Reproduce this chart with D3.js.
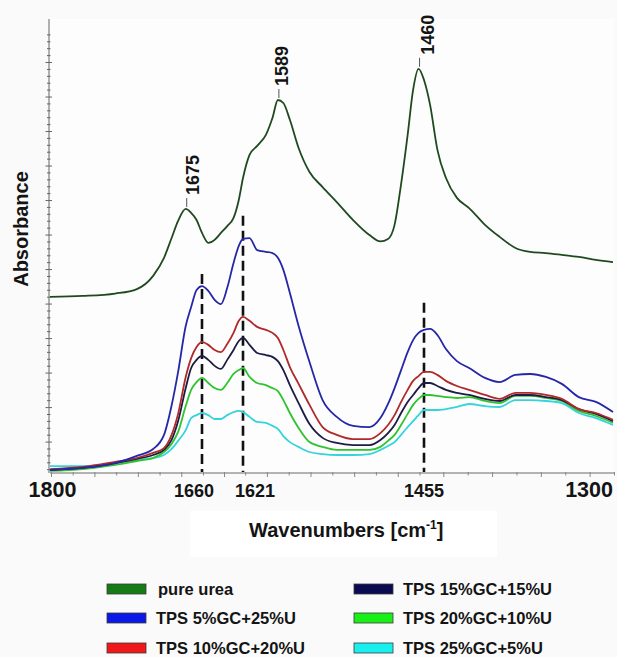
<!DOCTYPE html>
<html><head><meta charset="utf-8">
<script src="https://cdn.jsdelivr.net/npm/d3@7"></script>
<style>
html,body{margin:0;padding:0;background:#fafafa;}
svg{display:block;}
text{font-family:"Liberation Sans",Arial,sans-serif;font-weight:bold;fill:#141414;}
</style></head><body>
<svg id="chart" width="617" height="657"></svg>
<script>
// ---------- data ----------
const wavenumbers = [1800,1770,1740,1720,1705,1695,1688,1682,1675,1670,1665,1660,1654,1648,1642,1636,1630,1625,1621,1615,1608,1600,1594,1589,1584,1578,1570,1560,1548,1535,1520,1505,1495,1488,1482,1476,1470,1465,1460,1455,1450,1444,1437,1428,1418,1405,1393,1380,1368,1355,1342,1328,1314,1300];

const pureUrea = [0.622,0.625,0.633,0.648,0.692,0.752,0.818,0.875,0.915,0.902,0.878,0.835,0.802,0.812,0.835,0.858,0.885,0.945,1.018,1.095,1.125,1.162,1.218,1.278,1.268,1.212,1.118,1.038,0.988,0.938,0.878,0.828,0.807,0.815,0.862,0.998,1.162,1.312,1.382,1.345,1.262,1.112,1.018,0.952,0.918,0.862,0.822,0.785,0.772,0.768,0.762,0.755,0.745,0.738];
const tps5gc25u = [0.045,0.052,0.068,0.092,0.115,0.162,0.26,0.372,0.525,0.588,0.645,0.658,0.642,0.612,0.598,0.652,0.735,0.792,0.815,0.818,0.778,0.772,0.768,0.752,0.712,0.635,0.525,0.405,0.278,0.222,0.192,0.188,0.218,0.265,0.318,0.378,0.438,0.478,0.502,0.512,0.515,0.495,0.448,0.408,0.385,0.352,0.338,0.362,0.365,0.355,0.332,0.288,0.272,0.238];
const tps10gc20u = [0.048,0.055,0.072,0.085,0.102,0.118,0.162,0.232,0.355,0.418,0.455,0.472,0.462,0.445,0.438,0.465,0.502,0.542,0.555,0.542,0.522,0.512,0.502,0.485,0.445,0.388,0.332,0.262,0.188,0.162,0.148,0.148,0.168,0.195,0.228,0.272,0.312,0.342,0.358,0.372,0.372,0.362,0.342,0.325,0.312,0.295,0.282,0.302,0.302,0.295,0.282,0.248,0.235,0.212];
const tps15gc15u = [0.045,0.052,0.068,0.082,0.095,0.112,0.145,0.208,0.318,0.385,0.412,0.425,0.412,0.392,0.382,0.412,0.445,0.475,0.485,0.462,0.435,0.428,0.422,0.408,0.378,0.328,0.268,0.198,0.152,0.135,0.128,0.128,0.145,0.168,0.195,0.235,0.272,0.295,0.318,0.335,0.335,0.325,0.312,0.302,0.295,0.282,0.275,0.295,0.295,0.288,0.278,0.248,0.232,0.208];
const tps20gc10u = [0.042,0.048,0.062,0.075,0.085,0.105,0.132,0.172,0.258,0.312,0.338,0.352,0.335,0.318,0.312,0.335,0.365,0.378,0.385,0.355,0.335,0.328,0.318,0.308,0.278,0.235,0.185,0.138,0.122,0.112,0.112,0.112,0.122,0.142,0.162,0.195,0.232,0.262,0.282,0.295,0.295,0.292,0.288,0.285,0.288,0.275,0.268,0.292,0.292,0.285,0.275,0.242,0.225,0.202];
const tps25gc5u = [0.058,0.058,0.068,0.078,0.085,0.095,0.115,0.142,0.178,0.218,0.228,0.235,0.228,0.215,0.215,0.228,0.238,0.242,0.238,0.222,0.205,0.202,0.192,0.182,0.158,0.138,0.122,0.105,0.098,0.095,0.095,0.098,0.112,0.125,0.138,0.162,0.188,0.208,0.228,0.245,0.245,0.245,0.248,0.255,0.265,0.258,0.255,0.278,0.278,0.275,0.268,0.235,0.218,0.195];

const seriesNames = ["pure urea","TPS 5%GC+25%U","TPS 10%GC+20%U","TPS 15%GC+15%U","TPS 20%GC+10%U","TPS 25%GC+5%U"];
const seriesValues = [pureUrea,tps5gc25u,tps10gc20u,tps15gc15u,tps20gc10u,tps25gc5u];
const lineColors = ["#1f4a1f","#2626a8","#b02a2a","#1c1c44","#2ec42e","#34d4dc"];
const legendColors = ["#167a16","#0a18e8","#f01818","#0a0a52","#18f018","#18f0f0"];

const xTickLabels = [1800,1660,1621,1455,1300];
const peakLabels = [1675,1589,1460];
const dashedWavenumbers = [1660,1621,1455];
const dashedTops = [0.698,0.892,0.602];
const xTitle = "Wavenumbers [cm";
const yTitle = "Absorbance";

// ---------- scales ----------
const svg = d3.select("#chart");
const x = d3.scaleLinear().domain(xTickLabels).range([50,202,243,424,613]);
const y = d3.scaleLinear().domain([0.035,1.548]).range([473,19]);

// white box behind x title
svg.append("rect").attr("x",190).attr("y",511).attr("width",307).attr("height",46).attr("fill","#ffffff");
svg.append("rect").attr("x",50).attr("y",19).attr("width",564).attr("height",454).attr("fill","#fdfdfd");

// ---------- y axis ----------
const yMinor = d3.range(1,66).map(i => i*0.023).filter(v => v >= 0.035 && v <= 1.548);
const yAxisG = svg.append("g");
yAxisG.append("line").attr("x1",49).attr("x2",49).attr("y1",y(1.548)).attr("y2",y(0.035))
  .attr("stroke","#666").attr("stroke-width",1);
yAxisG.selectAll("line.t").data(yMinor).join("line").attr("class","t")
  .attr("x1",(d,i)=> (i+1)%5===0 ? 45.5 : 47)
  .attr("x2",(d,i)=> (i+1)%5===0 ? 52 : 50.5)
  .attr("y1",d=>y(d)).attr("y2",d=>y(d))
  .attr("stroke","#666").attr("stroke-width",1);

// ---------- x axis ----------
const xMinor = d3.range(1800,1299,-20);
const xAxisG = svg.append("g");
xAxisG.append("line").attr("x1",x(1800)).attr("x2",x(1300)+1).attr("y1",473).attr("y2",473)
  .attr("stroke","#9a9a9a").attr("stroke-width",1.6);
xAxisG.selectAll("line.t").data(xMinor).join("line").attr("class","t")
  .attr("x1",d=>x(d)+1.5).attr("x2",d=>x(d)+1.5)
  .attr("y1",472).attr("y2",(d,i)=> i%2===0 ? 477 : 475.5)
  .attr("stroke","#888").attr("stroke-width",1);

const tickStyle = {1800:{dx:2.5,size:21.5,anchor:"middle"},1660:{dx:-8,size:18,anchor:"middle"},
  1621:{dx:12,size:18,anchor:"middle"},1455:{dx:0,size:18,anchor:"middle"},1300:{dx:0,size:21.5,anchor:"end"}};
svg.append("g").selectAll("text").data(xTickLabels).join("text")
  .attr("x",d=>x(d)+tickStyle[d].dx).attr("y",497)
  .attr("text-anchor",d=>tickStyle[d].anchor)
  .attr("font-size",d=>tickStyle[d].size)
  .text(d=>d);

// dashed reference lines
svg.append("g").selectAll("line").data(dashedWavenumbers).join("line")
  .attr("x1",d=>x(d)).attr("x2",d=>x(d))
  .attr("y1",(d,i)=>y(dashedTops[i])).attr("y2",472)
  .attr("stroke","#111").attr("stroke-width",2.6).attr("stroke-dasharray","10,5");

// ---------- lines ----------
const line = d3.line().x((d,i)=>x(wavenumbers[i])).y(d=>y(d)).curve(d3.curveMonotoneX);
const order = [0,5,4,3,2,1];
svg.append("g").selectAll("path").data(order).join("path")
  .attr("d",k=>line(seriesValues[k]))
  .attr("fill","none").attr("stroke",k=>lineColors[k]).attr("stroke-width",1.8)
  .attr("stroke-linejoin","round");

// ---------- peak labels on pure urea ----------
const peakDx = {1675:6.5,1589:4,1460:9.5};
const peakG = svg.append("g");
peakLabels.forEach(p => {
  const idx = wavenumbers.indexOf(p);
  const py = y(pureUrea[idx]);
  peakG.append("line").attr("x1",x(p)+1).attr("x2",x(p)+1).attr("y1",py-2).attr("y2",py-11)
    .attr("stroke","#555").attr("stroke-width",1);
  peakG.append("text")
    .attr("transform",`translate(${x(p)+peakDx[p]},${py-14}) rotate(-90)`)
    .attr("dy","0.35em").attr("font-size",18).text(p);
});

// ---------- axis titles ----------
svg.append("text").attr("transform","translate(27.5,229) rotate(-90)")
  .attr("text-anchor","middle").attr("font-size",20).text(yTitle);
const xt = svg.append("text").attr("x",249).attr("y",537).attr("font-size",20);
xt.append("tspan").text(xTitle);
xt.append("tspan").attr("font-size",12).attr("dy",-8).text("-1");
xt.append("tspan").attr("dy",8).text("]");

// ---------- legend ----------
const legend = svg.append("g");
const legendPos = seriesNames.map((n,i)=>({col: i<3?0:1, row: i%3}));
const colX = [107,354], textX = [156,403], rowY = [589,618,648];
seriesNames.forEach((n,i)=>{
  const p = legendPos[i];
  legend.append("rect").attr("x",colX[p.col]).attr("y",rowY[p.row]-5).attr("width",39).attr("height",10)
    .attr("fill",legendColors[i]).attr("stroke","#3a3a3a").attr("stroke-width",0.8);
  legend.append("text").attr("x",textX[p.col] + (i===0?2:0)).attr("y",rowY[p.row]+6)
    .attr("font-size",16.5).text(n);
});
</script>
</body></html>
